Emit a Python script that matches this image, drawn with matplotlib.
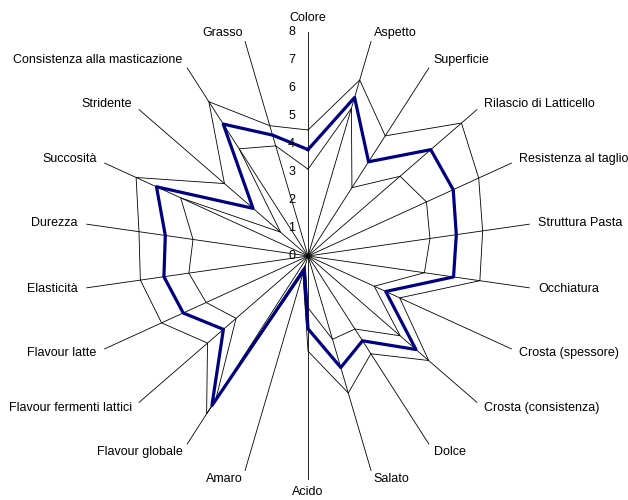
import numpy as np
import matplotlib
matplotlib.use("Agg")
import matplotlib.pyplot as plt
from matplotlib.transforms import offset_copy

plt.rcParams['font.family'] = ['Liberation Sans', 'DejaVu Sans']

categories = ["Colore", "Aspetto", "Superficie", "Rilascio di Latticello",
              "Resistenza al taglio", "Struttura Pasta", "Occhiatura",
              "Crosta (spessore)", "Crosta (consistenza)", "Dolce", "Salato",
              "Acido", "Amaro", "Flavour globale", "Flavour fermenti lattici",
              "Flavour latte", "Elasticità", "Durezza", "Succosità",
              "Stridente", "Consistenza alla masticazione", "Grasso"]

lower = [3.1, 5.5, 2.9, 4.35, 4.65, 4.4, 4.2, 2.6, 4.35, 3.1, 3.1,
         1.85, 0.35, 6.1, 3.4, 4.0, 4.3, 4.15, 5.0, 1.3, 4.55, 4.1]
mean = [3.8, 5.9, 4.0, 5.8, 5.7, 5.35, 5.25, 3.05, 5.1, 3.6, 4.15,
        2.6, 0.5, 6.35, 4.0, 4.9, 5.2, 5.15, 5.95, 2.6, 5.6, 4.5]
upper = [4.5, 6.55, 5.1, 7.25, 6.7, 6.3, 6.2, 3.6, 5.7, 4.15, 5.1,
         3.4, 0.65, 6.7, 4.75, 5.75, 6.05, 6.1, 6.75, 3.95, 6.55, 4.85]

rticks = [0, 1, 2, 3, 4, 5, 6, 7, 8]
rmax = 8

n = len(categories)
theta = np.arange(n) * 2 * np.pi / n
theta_closed = np.append(theta, theta[0])

fig = plt.figure(figsize=(6.28, 5.0), dpi=100)
ax = fig.add_axes([0.1338, 0.04, 0.7134, 0.896], projection='polar')
ax.set_theta_zero_location('N')
ax.set_theta_direction(-1)
ax.set_ylim(0, rmax)
ax.axis('off')

# spokes
for t in theta:
    ax.plot([t, t], [0, rmax], color='black', lw=0.6, zorder=1)

# series
for vals in (lower, upper):
    ax.plot(theta_closed, vals + vals[:1], color='black', lw=0.6, zorder=2)
ax.plot(theta_closed, mean + mean[:1], color='#000080', lw=2.3, zorder=3)

# radial tick labels along the top spoke
tick_tr = offset_copy(ax.transData, fig=fig, x=-13, y=0, units='dots')
for r in rticks:
    ax.text(0, r, str(r), transform=tick_tr, ha='right', va='center',
            fontsize=9, clip_on=False)

# category labels
for t, lab in zip(theta, categories):
    s = np.sin(t)
    if abs(s) < 0.05:
        if np.cos(t) > 0:
            ax.text(t, 8.3, lab, ha='center', va='bottom', fontsize=9, clip_on=False)
        else:
            ax.text(t, 8.2, lab, ha='center', va='top', fontsize=9, clip_on=False)
    else:
        ha = 'left' if s > 0 else 'right'
        ax.text(t, 8.3, lab, ha=ha, va='center', fontsize=9, clip_on=False)

fig.savefig("out.png", dpi=100)
